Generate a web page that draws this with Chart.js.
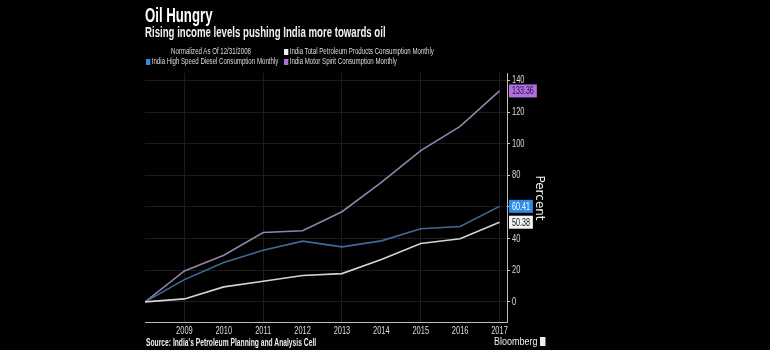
<!DOCTYPE html>
<html>
<head>
<meta charset="utf-8">
<script src="https://cdn.jsdelivr.net/npm/chart.js@4.4.1/dist/chart.umd.min.js"></script>
<style>
  html, body { margin: 0; padding: 0; background: #000; }
  #wrap { position: relative; width: 770px; height: 350px; background: #000; overflow: hidden;
    font-family: "Liberation Sans", Arial, sans-serif; }
  #c { position: absolute; left: 0; top: 0; }
  .t { position: absolute; color: #fff; white-space: nowrap; transform-origin: 0 0; }
  #title { left: 145px; top: 4px; font-size: 20px; font-weight: bold; transform: scaleX(0.66); }
  #subtitle { left: 145px; top: 24px; font-size: 14.5px; font-weight: bold; color: #f0f0f0; transform: scaleX(0.665); }
  .leg { font-size: 8.5px; color: #ddd; transform: scaleX(0.72); }
  .sq { display: inline-block; width: 6px; height: 6px; margin-right: 2px; vertical-align: -1px; }
  #source { left: 146px; top: 336px; font-size: 10.5px; font-weight: bold; color: #eee; transform: scaleX(0.64); }
  #bbg { left: 494px; top: 335px; font-size: 11.5px; color: #eee; transform: scaleX(0.78); }
  #bbg span { display: inline-block; width: 7px; height: 9px; background: #eee; margin-left: 3px; vertical-align: -1px; }
</style>
</head>
<body>
<div id="wrap">
  <canvas id="c" width="770" height="350"></canvas>
  <div class="t" id="title">Oil Hungry</div>
  <div class="t" id="subtitle">Rising income levels pushing India more towards oil</div>
  <div class="t leg" style="left:171px; top:46px;">Normalized As Of 12/31/2008</div>
  <div class="t leg" style="left:284px; top:46px;"><span class="sq" style="background:#f2f2f2"></span>India Total Petroleum Products Consumption Monthly</div>
  <div class="t leg" style="left:146px; top:56px;"><span class="sq" style="background:#2f8ae8"></span>India High Speed Diesel Consumption Monthly</div>
  <div class="t leg" style="left:284px; top:56px;"><span class="sq" style="background:#b06ee0"></span>India Motor Spirit Consumption Monthly</div>
  <div class="t" id="source">Source: India's Petroleum Planning and Analysis Cell</div>
  <div class="t" id="bbg">Bloomberg<span></span></div>
</div>
<script>
// ---- data ----
const years = [2008, 2009, 2010, 2011, 2012, 2013, 2014, 2015, 2016, 2017];
const totalPetroleum = [0, 1.9, 9.5, 13.1, 16.7, 17.9, 26.8, 36.9, 39.9, 50.38];
const highSpeedDiesel = [0, 14.1, 24.9, 32.7, 38.4, 34.8, 38.6, 46.2, 47.7, 60.41];
const motorSpirit = [0, 19.6, 29.5, 43.9, 45.0, 57.0, 75.5, 95.6, 111.0, 133.36];
const yTicks = [0, 20, 40, 60, 80, 100, 120, 140];
const yAxisTitle = 'Percent';

const FONT = '"Liberation Sans", Arial, sans-serif';
const SQUEEZE = 0.68;

function pts(arr) { return arr.map((v, i) => ({ x: years[i], y: v })); }

function narrowText(ctx, txt, x, y, align) {
  ctx.save();
  ctx.translate(x, y);
  ctx.scale(SQUEEZE, 1);
  ctx.textAlign = align;
  ctx.fillText(txt, 0, 0);
  ctx.restore();
}

const customText = {
  id: 'customText',
  afterDraw(chart) {
    const ctx = chart.ctx;
    const xs = chart.scales.x, ys = chart.scales.y;
    const area = chart.chartArea;
    ctx.save();
    ctx.font = '11px ' + FONT;
    ctx.fillStyle = '#dcdcdc';
    ctx.textBaseline = 'middle';
    // x tick labels
    xs.ticks.forEach(t => {
      if (t.value === years[0]) return;
      narrowText(ctx, String(t.value), xs.getPixelForValue(t.value), area.bottom + 9, 'center');
    });
    // y tick labels
    ys.ticks.forEach(t => {
      narrowText(ctx, String(t.value), area.right + 5, ys.getPixelForValue(t.value), 'left');
    });
    // end-value labels
    ctx.font = '10.5px ' + FONT;
    chart.data.datasets.forEach(ds => {
      const v = ds.data[ds.data.length - 1].y;
      const y = ys.getPixelForValue(v);
      const txt = v.toFixed(2);
      const w = ctx.measureText(txt).width * SQUEEZE + 6;
      ctx.fillStyle = ds.labelBg;
      ctx.fillRect(area.right + 2, y - 6.5, w, 13);
      ctx.fillStyle = ds.labelFg;
      narrowText(ctx, txt, area.right + 5, y + 0.5, 'left');
    });
    // axis title
    ctx.save();
    ctx.translate(539, 198);
    ctx.rotate(Math.PI / 2);
    ctx.font = '12px "DejaVu Sans", sans-serif';
    ctx.fillStyle = '#f2f2f2';
    ctx.textAlign = 'center';
    ctx.textBaseline = 'middle';
    ctx.fillText(yAxisTitle, 0, 0);
    ctx.restore();
    ctx.restore();
  }
};

new Chart(document.getElementById('c'), {
  type: 'line',
  data: {
    datasets: [
      { label: 'India Total Petroleum Products Consumption Monthly', data: pts(totalPetroleum),
        borderColor: '#d4d4d4', labelBg: '#f4f4f4', labelFg: '#111', order: 1 },
      { label: 'India High Speed Diesel Consumption Monthly', data: pts(highSpeedDiesel),
        borderColor: '#3f6a98', labelBg: '#2f8ae8', labelFg: '#fff', order: 2 },
      { label: 'India Motor Spirit Consumption Monthly', data: pts(motorSpirit),
        borderColor: '#9284ad', labelBg: '#b06ee0', labelFg: '#2a1040', order: 3 }
    ]
  },
  options: {
    responsive: false,
    animation: false,
    events: [],
    layout: { padding: { left: 145, top: 73, right: 203, bottom: 0 } },
    elements: { point: { radius: 0 }, line: { borderWidth: 1.6, tension: 0 } },
    plugins: { legend: { display: false }, tooltip: { enabled: false } },
    scales: {
      x: {
        type: 'linear', min: 2008, max: 2017.19,
        afterBuildTicks: s => { s.ticks = years.map(v => ({ value: v })); },
        afterFit: s => { s.height = 28; },
        ticks: { color: 'rgba(0,0,0,0)', font: { family: FONT, size: 10.5 }, padding: 3,
          callback: v => (v === years[0] ? '' : String(v)), maxRotation: 0, autoSkip: false },
        grid: { drawTicks: false, lineWidth: 1,
          color: c => (c.tick && c.tick.value % 2 === 1 ? '#1c1c1c' : 'rgba(0,0,0,0)') },
        border: { color: '#bdbdbd', width: 1 }
      },
      y: {
        position: 'right', min: -12.7, max: 144.7,
        afterBuildTicks: s => { s.ticks = yTicks.map(v => ({ value: v })); },
        afterFit: s => { s.width = 60; },
        ticks: { color: 'rgba(0,0,0,0)', font: { family: FONT, size: 10.5 }, padding: 2 },
        grid: { color: '#1c1c1c', tickColor: '#cfcfcf', tickLength: 3, lineWidth: 1 },
        border: { color: '#bdbdbd', width: 1 }
      }
    }
  },
  plugins: [customText]
});
</script>
</body>
</html>
